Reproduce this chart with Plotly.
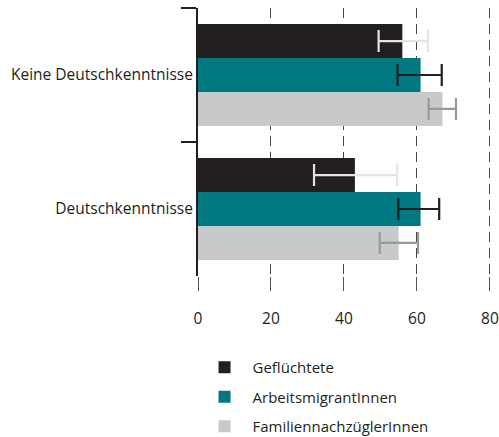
import plotly.graph_objects as go

categories = ["Keine Deutschkenntnisse", "Deutschkenntnisse"]
series_names = ["Geflüchtete", "ArbeitsmigrantInnen", "FamiliennachzüglerInnen"]
values = {
    "Geflüchtete": [56, 43],
    "ArbeitsmigrantInnen": [61, 61],
    "FamiliennachzüglerInnen": [67, 55],
}
ci_low = {
    "Geflüchtete": [49.5, 31.8],
    "ArbeitsmigrantInnen": [54.7, 54.9],
    "FamiliennachzüglerInnen": [63.2, 49.8],
}
ci_high = {
    "Geflüchtete": [63.0, 54.6],
    "ArbeitsmigrantInnen": [66.8, 66.1],
    "FamiliennachzüglerInnen": [70.7, 60.3],
}
x_ticks = [0, 20, 40, 60, 80]

bar_colors = {
    "Geflüchtete": "#231f20",
    "ArbeitsmigrantInnen": "#007882",
    "FamiliennachzüglerInnen": "#c8c9cb",
}
err_colors = {
    "Geflüchtete": "#e4e4e4",
    "ArbeitsmigrantInnen": "#231f20",
    "FamiliennachzüglerInnen": "#999999",
}

fig = go.Figure()
for i, name in enumerate(series_names):
    v = values[name]
    plus = [h - a for h, a in zip(ci_high[name], v)]
    minus = [a - l for a, l in zip(v, ci_low[name])]
    fig.add_trace(go.Bar(
        name=name, y=categories, x=v, orientation="h",
        marker=dict(color=bar_colors[name], line=dict(width=0)),
        error_x=dict(type="data", symmetric=False, array=plus, arrayminus=minus,
                     color=err_colors[name], thickness=2.2, width=11),
        legendgroup=name,
    ))

font = "Open Sans, Noto Sans, sans-serif"
fig.update_layout(
    width=499, height=437,
    margin=dict(l=198, r=8, t=8, b=161, autoexpand=False),
    barmode="group", bargap=0.24, bargroupgap=0,
    plot_bgcolor="white", paper_bgcolor="white",
    font=dict(family=font, size=14, color="#231f20"),
    showlegend=True,
    legend=dict(x=-0.005, xanchor="left", y=-0.28, yanchor="top",
                font=dict(size=15, color="#231f20"),
                tracegroupgap=7, itemwidth=46, traceorder="grouped",
                bgcolor="rgba(0,0,0,0)"),
    xaxis=dict(range=[0, 80.3], tickvals=x_ticks, showgrid=True,
               gridcolor="#444444", griddash="10px,6px", gridwidth=1.2,
               zeroline=False, showline=False, automargin=False,
               ticks="outside", ticklen=14, tickcolor="#555555", tickwidth=1.2,
               tickfont=dict(size=15.5), ticklabelstandoff=14),
    yaxis=dict(categoryorder="array", categoryarray=categories,
               autorange="reversed", showline=True, linecolor="#231f20",
               linewidth=2, ticks="outside", tickson="boundaries",
               ticklen=15, tickwidth=1.5, tickcolor="#231f20", automargin=False,
               showgrid=False, tickfont=dict(size=15.5)),
)

fig.write_html("out.html", config={"displayModeBar": False},
               post_script="document.body.style.margin='0';document.body.style.overflow='hidden';")
